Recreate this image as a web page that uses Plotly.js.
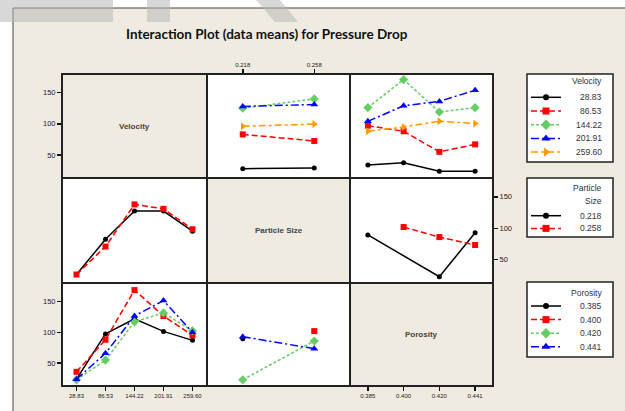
<!DOCTYPE html>
<html>
<head>
<meta charset="utf-8">
<script src="https://cdn.plot.ly/plotly-3.0.1.min.js"></script>
<style>html,body{margin:0;padding:0;background:#fff;}#chart{width:625px;height:411px;}</style>
</head>
<body>
<div id="chart"></div>
<script>
// ---- factor levels (tick labels) ----
const velocity = ['28.83', '86.53', '144.22', '201.91', '259.60'];
const particleSize = ['0.218', '0.258'];
const porosity = ['0.385', '0.400', '0.420', '0.441'];

// ---- mean Pressure Drop values ----
// Row 1: lines = Velocity levels
const velByParticle = [[28, 29], [83, 72.5], [125, 140], [128, 131], [96, 99.5]];
const velByPorosity = [[34, 37.5, 24, 24], [97, 88, 55, 67], [126, 171, 119, 126], [104, 129, 136, 154], [88, 95, 104, 100.5]];
// Row 2: lines = Particle Size levels
const sizeByVelocity = [[26.5, 82.5, 127.5, 127.5, 95.5], [26.5, 71, 138, 131, 98.5]];
const sizeByPorosity = [[89.5, null, 23, 93], [null, 102, 86, 73.5]];
// Row 3: lines = Porosity levels
const porByVelocity = [[24, 97.5, 122, 101.5, 87], [36, 88, 168.5, 126.5, 95], [23, 55, 117, 131.5, 102.5], [24, 66, 126.5, 151.5, 100]];
const porByParticle = [[89.5, null], [null, 102], [23, 86], [93, 73.5]];

const yTicks = [50, 100, 150];
const factorNames = ['Velocity', 'Particle Size', 'Porosity'];
const legendTitles = [['Velocity'], ['Particle', 'Size'], ['Porosity']];
const chartTitle = 'Interaction Plot (data means) for Pressure Drop';

// ---- styles ----
const colors = ['#000000', '#FF0000', '#66CC66', '#0000FF', '#FF9900'];
const dashes = ['solid', '6px,3px', '3px,2px', '8px,3px,2px,3px', '7px,3px,3px,3px'];
const symbols = ['circle', 'square', 'diamond', 'triangle-up', 'triangle-right'];
const msizes = [5, 6, 7, 7, 7];

const W = 625, H = 411;
const colPx = [[62, 207], [207, 350], [350, 493]];
const rowPx = [[74, 178], [178, 283], [283, 386]];
const px = v => v / W;
const py = v => 1 - v / H;
const FONT = 'Liberation Sans';

const traces = [];
function axNames(cell) {
  return [cell === 1 ? 'x' : 'x' + cell, cell === 1 ? 'y' : 'y' + cell];
}
function addGroup(cell, xcats, series, levels) {
  const [xa, ya] = axNames(cell);
  series.forEach((ys, i) => {
    traces.push({
      type: 'scatter', mode: 'lines+markers', x: xcats, y: ys,
      xaxis: xa, yaxis: ya, name: levels[i],
      showlegend: false, connectgaps: true, cliponaxis: false,
      line: {color: colors[i], dash: dashes[i], width: 1.5},
      marker: {symbol: symbols[i], size: msizes[i], color: colors[i]}
    });
  });
}
function addEmpty(cell, xcats) {
  const [xa, ya] = axNames(cell);
  traces.push({type: 'scatter', mode: 'markers', x: xcats, y: xcats.map(() => null),
    xaxis: xa, yaxis: ya, showlegend: false, hoverinfo: 'skip'});
}

const colCats = [velocity, particleSize, porosity];
// row 1
addEmpty(1, velocity);
addGroup(2, particleSize, velByParticle, velocity);
addGroup(3, porosity, velByPorosity, velocity);
// row 2
addGroup(4, velocity, sizeByVelocity, particleSize);
addEmpty(5, particleSize);
addGroup(6, porosity, sizeByPorosity, particleSize);
// row 3
addGroup(7, velocity, porByVelocity, porosity);
addGroup(8, particleSize, porByParticle, porosity);
addEmpty(9, porosity);

const layout = {
  width: W, height: H,
  margin: {l: 0, r: 0, t: 0, b: 0},
  paper_bgcolor: '#ffffff', plot_bgcolor: 'rgba(0,0,0,0)',
  shapes: [], annotations: [],
  hovermode: false, showlegend: false
};

const tickFontX = {family: FONT, size: 6, color: '#222'};
const tickFontY = {family: FONT, size: 7.5, color: '#222'};

for (let r = 0; r < 3; r++) {
  for (let c = 0; c < 3; c++) {
    const k = r * 3 + c + 1;
    const xn = k === 1 ? 'xaxis' : 'xaxis' + k;
    const yn = k === 1 ? 'yaxis' : 'yaxis' + k;
    const cats = colCats[c];
    const showX = (r === 0 && c === 1) || (r === 2 && c === 0) || (r === 2 && c === 2);
    const showY = (c === 0 && (r === 0 || r === 2)) || (r === 1 && c === 2);
    layout[xn] = {
      domain: [px(colPx[c][0]), px(colPx[c][1])],
      anchor: k === 1 ? 'y' : 'y' + k,
      type: 'category', categoryorder: 'array', categoryarray: cats,
      range: [-0.5, cats.length - 0.5],
      showgrid: false, zeroline: false, showline: false,
      ticks: showX ? 'outside' : '', ticklen: 4, tickwidth: 1.5, tickcolor: '#111',
      showticklabels: showX, tickfont: tickFontX, side: (r === 0 ? 'top' : 'bottom'),
      fixedrange: true
    };
    layout[yn] = {
      domain: [py(rowPx[r][1]), py(rowPx[r][0])],
      anchor: k === 1 ? 'x' : 'x' + k,
      range: [13, 180],
      tickmode: 'array', tickvals: yTicks,
      showgrid: false, zeroline: false, showline: false,
      ticks: showY ? 'outside' : '', ticklen: 4, tickwidth: 1.5, tickcolor: '#111',
      showticklabels: showY, tickfont: tickFontY, side: (c === 2 ? 'right' : 'left'),
      fixedrange: true
    };
  }
}

// ---- legend overlay axes (pixel coordinates of the whole figure) ----
layout.xaxis10 = {domain: [0, 1], range: [0, W], visible: false, fixedrange: true, anchor: 'y10'};
layout.yaxis10 = {domain: [0, 1], range: [H, 0], visible: false, fixedrange: true, anchor: 'x10'};

const legendLevels = [velocity, particleSize, porosity];
const legendBox = [
  {top: 74, bottom: 162, titleY: 81, firstY: 97.3, step: 13.7},
  {top: 178, bottom: 237, titleY: 187.7, firstY: 215.7, step: 12.7},
  {top: 282, bottom: 357, titleY: 293.3, firstY: 306, step: 13.6}
];
const legX0 = 527, legX1 = 613, sampleX0 = 531, sampleX1 = 561, textRight = 604;
const legFont = {family: FONT, size: 8.5, color: '#333'};

legendBox.forEach((b, g) => {
  layout.shapes.push({type: 'rect', xref: 'paper', yref: 'paper', layer: 'below',
    x0: px(legX0), x1: px(legX1), y0: py(b.bottom), y1: py(b.top),
    fillcolor: '#ffffff', line: {color: '#222', width: 1.5}});
  legendTitles[g].forEach((t, j) => {
    layout.annotations.push({xref: 'paper', yref: 'paper', x: px(textRight), y: py(b.titleY + j * 13),
      xanchor: 'right', yanchor: 'middle', showarrow: false, text: t, font: legFont});
  });
  legendLevels[g].forEach((lev, i) => {
    const yy = b.firstY + i * b.step;
    traces.push({type: 'scatter', mode: 'lines', xaxis: 'x10', yaxis: 'y10',
      x: [sampleX0, sampleX1], y: [yy, yy], showlegend: false, hoverinfo: 'skip',
      line: {color: colors[i], dash: dashes[i], width: 1.5}});
    traces.push({type: 'scatter', mode: 'markers', xaxis: 'x10', yaxis: 'y10',
      x: [(sampleX0 + sampleX1) / 2], y: [yy], showlegend: false, hoverinfo: 'skip',
      marker: {symbol: symbols[i], size: msizes[i] + 1, color: colors[i]}});
    layout.annotations.push({xref: 'paper', yref: 'paper', x: px(textRight), y: py(yy),
      xanchor: 'right', yanchor: 'middle', showarrow: false, text: lev, font: legFont});
  });
});

// beige panel (drawn first)
layout.shapes.unshift({type: 'rect', xref: 'paper', yref: 'paper', layer: 'below',
  x0: px(13), x1: 1.05, y0: -0.05, y1: py(8),
  fillcolor: '#EFEBE1', line: {color: '#444', width: 1}});
// cells
for (let r = 0; r < 3; r++) {
  for (let c = 0; c < 3; c++) {
    layout.shapes.push({type: 'rect', xref: 'paper', yref: 'paper', layer: 'below',
      x0: px(colPx[c][0]), x1: px(colPx[c][1]), y0: py(rowPx[r][1]), y1: py(rowPx[r][0]),
      fillcolor: r === c ? '#EFEBE1' : '#ffffff', line: {color: '#222', width: 2}});
  }
}
// watermark shapes at top
layout.shapes.push({type: 'rect', xref: 'paper', yref: 'paper', layer: 'above',
  x0: 0, x1: px(113), y0: py(22), y1: 1, fillcolor: '#b8b8b8', opacity: 0.55, line: {width: 0}});
layout.shapes.push({type: 'rect', xref: 'paper', yref: 'paper', layer: 'above',
  x0: px(147), x1: px(170), y0: py(22), y1: 1, fillcolor: '#b8b8b8', opacity: 0.55, line: {width: 0}});
layout.shapes.push({type: 'path', xref: 'paper', yref: 'paper', layer: 'above',
  path: `M ${px(256)} 1 L ${px(280)} 1 L ${px(298)} ${py(22)} L ${px(275)} ${py(22)} Z`,
  fillcolor: '#b8b8b8', opacity: 0.55, line: {width: 0}});

// title
layout.annotations.push({xref: 'paper', yref: 'paper', x: px(267), y: py(34),
  xanchor: 'center', yanchor: 'middle', showarrow: false,
  text: '<b>' + chartTitle + '</b>', font: {family: 'Lato', size: 13.5, color: '#111'}});
// diagonal labels
for (let i = 0; i < 3; i++) {
  layout.annotations.push({xref: 'paper', yref: 'paper',
    x: px((colPx[i][0] + colPx[i][1]) / 2), y: py((rowPx[i][0] + rowPx[i][1]) / 2),
    xanchor: 'center', yanchor: 'middle', showarrow: false,
    text: '<b>' + factorNames[i] + '</b>', font: {family: FONT, size: 8, color: '#444'}});
}

Plotly.newPlot('chart', traces, layout, {displayModeBar: false, staticPlot: true});
</script>
</body>
</html>
